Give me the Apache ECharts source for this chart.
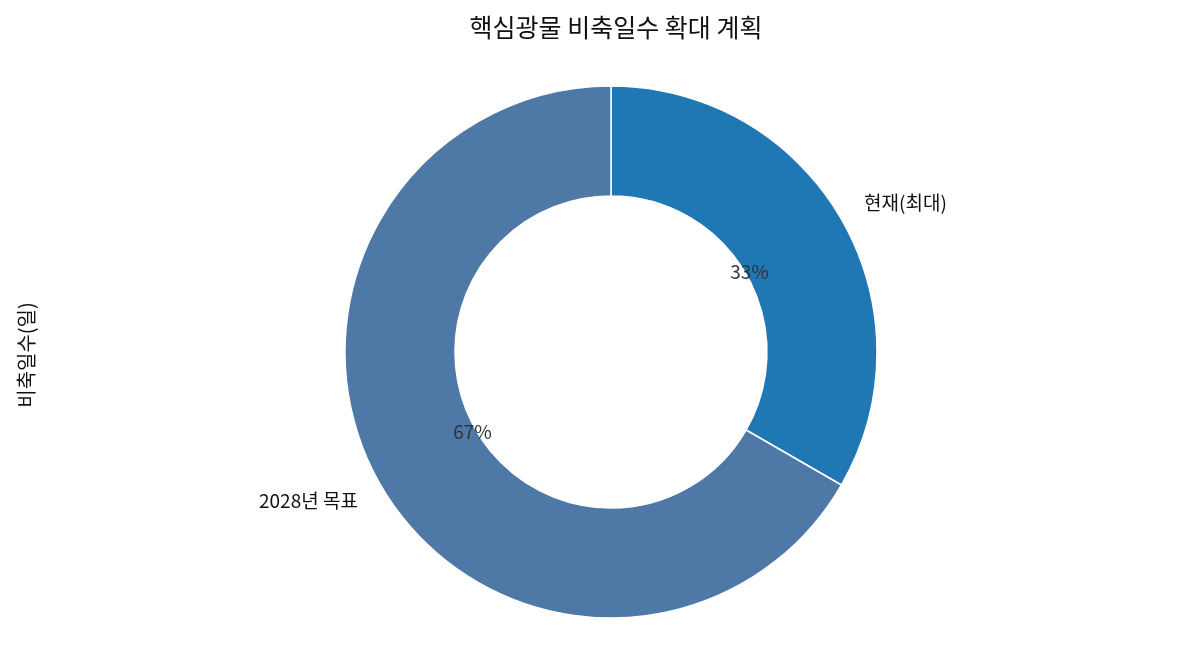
<!DOCTYPE html>
<html><head><meta charset="utf-8">
<script src="https://cdn.jsdelivr.net/npm/echarts@6/dist/echarts.min.js"></script>
<style>html,body{margin:0;padding:0;background:#fff}#c{width:1185px;height:660px}</style>
</head><body><div id="c"></div>
<script>
const categories = ['현재(최대)', '2028년 목표'];
const values = [50, 100];
const colors = ['#1f77b4', '#4e79a7'];
const titleText = '핵심광물 비축일수 확대 계획';
const yLabel = '비축일수(일)';

const FONT = '"Noto Sans CJK KR", "Noto Sans", sans-serif';
const data = categories.map((c, i) => ({ name: c, value: values[i], itemStyle: { color: colors[i] } }));
const chart = echarts.init(document.getElementById('c'), null, { renderer: 'canvas' });
chart.setOption({
  animation: false,
  backgroundColor: '#fff',
  title: { text: titleText, left: 611, textAlign: 'center', top: 10, textStyle: { fontFamily: FONT, fontSize: 25, fontWeight: 'normal', color: '#111' } },
  graphic: [{ type: 'text', x: 26, y: 355, rotation: Math.PI / 2,
    style: { text: yLabel, font: '20px ' + FONT, fill: '#111', textAlign: 'center', textVerticalAlign: 'middle' } }],
  series: [
    { type: 'pie', center: ['51.56%', 352], radius: [156, 266], startAngle: 90, clockwise: true,
      avoidLabelOverlap: false, silent: true,
      itemStyle: { borderColor: '#fff', borderWidth: 1.5 },
      label: { show: true, position: 'outside', fontFamily: FONT, fontSize: 19, color: '#111', formatter: '{b}' },
      labelLine: { show: false, length: 32, length2: -10 },
      data: data },
    { type: 'pie', center: ['51.56%', 352], radius: [0, 314], startAngle: 90, clockwise: true,
      silent: true, avoidLabelOverlap: false,
      itemStyle: { color: 'transparent', borderWidth: 0 },
      label: { show: true, position: 'inside', fontFamily: FONT, fontSize: 19, color: '#333',
        formatter: p => Math.round(p.percent) + '%' },
      labelLine: { show: false },
      data: categories.map((c, i) => ({ name: c, value: values[i] })) }
  ]
});
</script></body></html>
